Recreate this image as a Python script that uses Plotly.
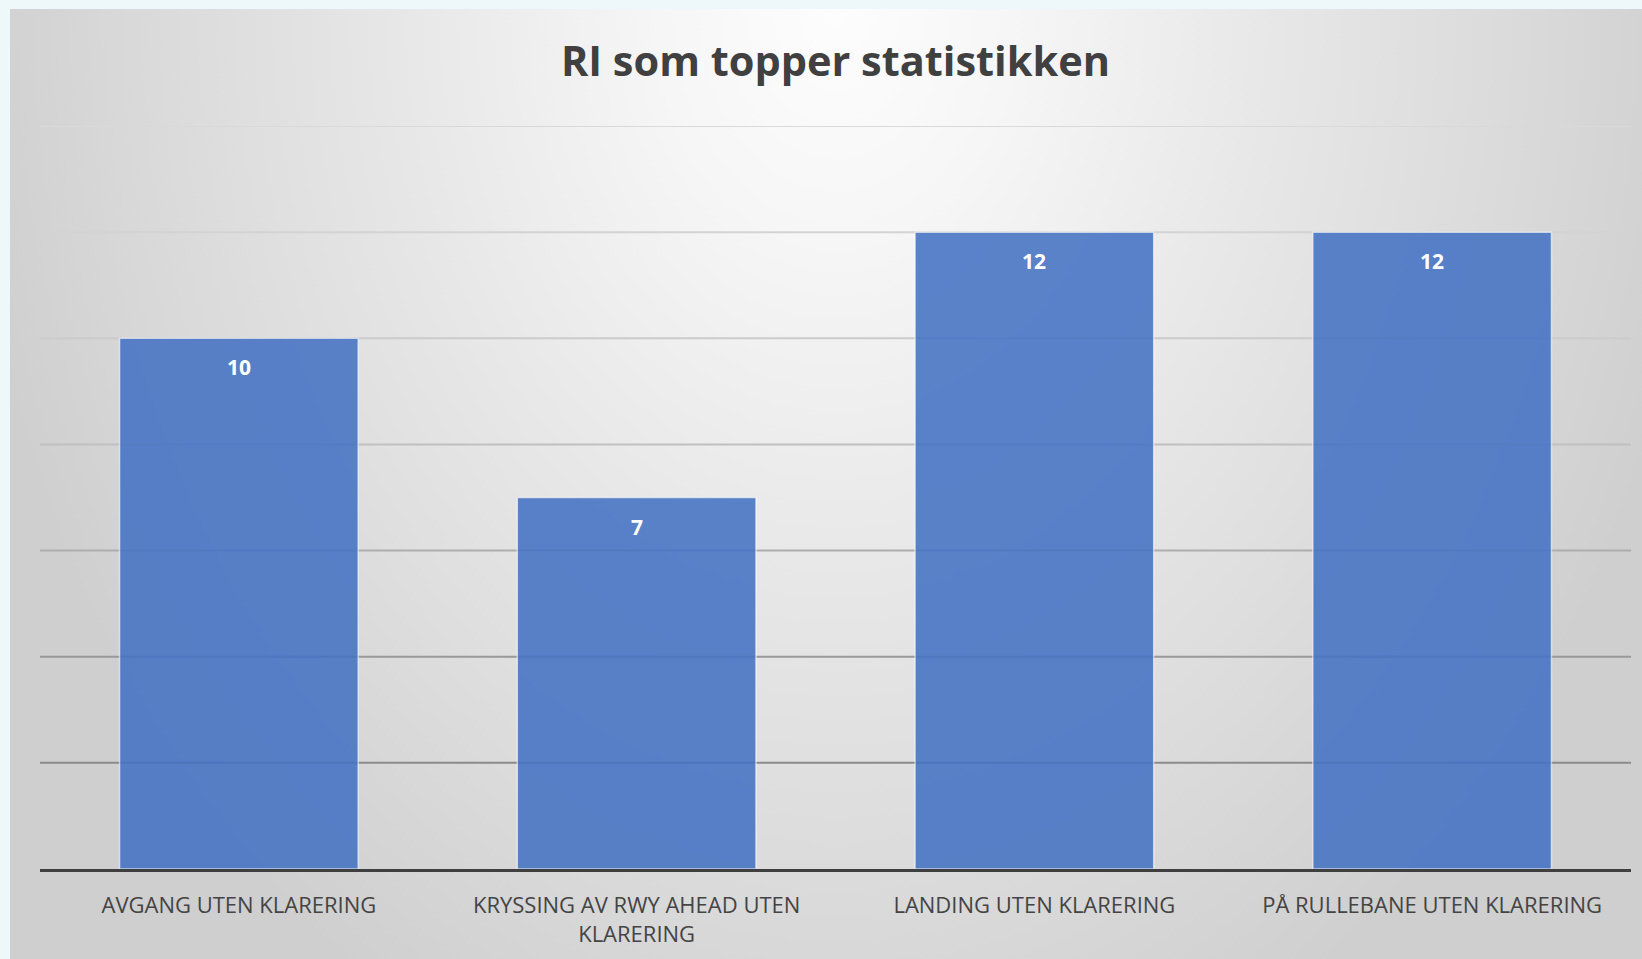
import base64
import plotly.graph_objects as go

# ---- data ----
categories = [
    "AVGANG UTEN KLARERING",
    "KRYSSING AV RWY AHEAD UTEN<br>KLARERING",
    "LANDING UTEN KLARERING",
    "PÅ RULLEBANE UTEN KLARERING",
]
values = [10, 7, 12, 12]
y_ticks = [0, 2, 4, 6, 8, 10, 12, 14]
title_text = "RI som topper statistikken"

# ---- style ----
W, H = 1642, 959
ML, MR, MT, MB = 40, 11, 126, 90
PW, PH = W - ML - MR, H - MT - MB
PAGE_BG = "#EEF7FA"
CHART_LEFT, CHART_TOP = 10, 9
GRID_COLORS = ["#8b8b8b", "#999999", "#adadad", "#c0c0c0", "#cbcbcb", "#d3d3d3", "#d9d9d9"]
TEXT = "#404040"
FONT = "Open Sans"


def paper_x(px):
    return (px - ML) / PW


def paper_y(py):
    return (H - MB - py) / PH


gw, gh = W - CHART_LEFT, H - CHART_TOP
svg = f"""<svg xmlns="http://www.w3.org/2000/svg" width="{gw}" height="{gh}" viewBox="0 0 {gw} {gh}" preserveAspectRatio="none">
<defs><radialGradient id="g" gradientUnits="userSpaceOnUse" cx="0" cy="0" r="1"
 gradientTransform="translate({gw/2 + 10},0) scale(880,1150)">
<stop offset="0" stop-color="#fdfdfd"/>
<stop offset="0.2" stop-color="#f6f6f6"/>
<stop offset="0.5" stop-color="#e7e7e7"/>
<stop offset="0.8" stop-color="#d9d9d9"/>
<stop offset="1" stop-color="#cfcfcf"/>
</radialGradient></defs>
<rect x="0" y="0" width="{gw}" height="{gh}" fill="url(#g)"/>
</svg>"""
svg_uri = "data:image/svg+xml;base64," + base64.b64encode(svg.encode("utf-8")).decode("ascii")

fig = go.Figure()
fig.add_trace(
    go.Bar(
        x=categories,
        y=values,
        width=0.6,
        marker=dict(color="#4472C4", line=dict(color="rgba(255,255,255,0.65)", width=1.5)),
        opacity=0.87,
        hoverinfo="skip",
        showlegend=False,
    )
)

for c, v in zip(categories, values):
    fig.add_annotation(
        x=c, y=v, xref="x", yref="y", text=str(v), showarrow=False,
        yshift=-29, yanchor="middle",
        font=dict(family=FONT, size=21, color="white", weight="bold"),
    )

shapes = []
for t, col in zip(y_ticks[1:], GRID_COLORS):
    shapes.append(dict(type="line", xref="x domain", x0=0, x1=1, yref="y", y0=t, y1=t,
                       line=dict(color=col, width=2), layer="below"))

fig.update_layout(
    width=W, height=H, autosize=False,
    margin=dict(l=ML, r=MR, t=MT, b=MB, pad=0),
    paper_bgcolor=PAGE_BG,
    plot_bgcolor="rgba(0,0,0,0)",
    title=dict(text=title_text, x=0.5, xref="paper", xanchor="center",
               y=1 - 61 / H, yanchor="middle",
               font=dict(family=FONT, size=41.5, color=TEXT, weight="bold")),
    font=dict(family=FONT, color=TEXT),
    shapes=shapes,
    images=[dict(source=svg_uri, xref="paper", yref="paper",
                 x=paper_x(CHART_LEFT), y=paper_y(CHART_TOP),
                 sizex=paper_x(W) - paper_x(CHART_LEFT),
                 sizey=paper_y(CHART_TOP) - paper_y(H),
                 xanchor="left", yanchor="top", sizing="stretch", layer="below")],
    xaxis=dict(showline=True, linecolor="#3f3f3f", linewidth=3, ticks="outside", ticklen=15,
               tickcolor="rgba(0,0,0,0)", tickfont=dict(family=FONT, size=22, color="#444444"),
               showgrid=False, zeroline=False, fixedrange=True),
    yaxis=dict(range=[0, 14], tickvals=y_ticks, showticklabels=False, showgrid=False,
               zeroline=False, showline=False, fixedrange=True),
    bargap=0.4,
)

fig.write_html(
    "out.html",
    config={"displayModeBar": False},
    post_script="document.body.style.margin='0';document.body.style.overflow='hidden';"
                "document.body.style.background='#EEF7FA';",
)
